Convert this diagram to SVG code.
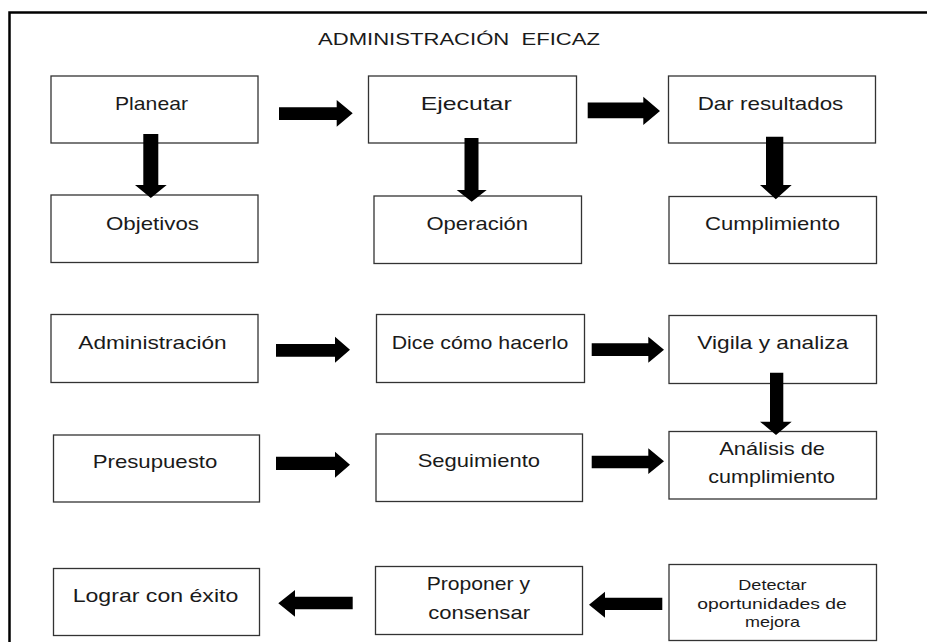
<svg xmlns="http://www.w3.org/2000/svg" width="927" height="642" viewBox="0 0 927 642">
<style>
.box{fill:#fff;stroke:#333;stroke-width:1.3}
.t{font-family:"Liberation Sans",Arial,sans-serif;font-size:19px;fill:#1a1a1a}
.s{font-family:"Liberation Sans",Arial,sans-serif;font-size:15px;fill:#1a1a1a}
.ttl{font-family:"Liberation Sans",Arial,sans-serif;font-size:17px;fill:#1a1a1a;white-space:pre}
.ar{fill:#000}
</style>
<rect x="0" y="0" width="927" height="642" fill="#fff"/>
<path d="M9.5,642 V12.5 H927" fill="none" stroke="#000" stroke-width="2.5"/>
<text class="ttl" x="318" y="44.5" textLength="282" lengthAdjust="spacingAndGlyphs" xml:space="preserve">ADMINISTRACIÓN  EFICAZ</text>

<g id="n-planear"><rect class="box" x="51" y="76" width="207" height="67"/><text class="t" x="115" y="110" textLength="73" lengthAdjust="spacingAndGlyphs">Planear</text></g>
<g id="n-ejecutar"><rect class="box" x="368.5" y="76" width="208" height="67"/><text class="t" x="420.7" y="110" textLength="91" lengthAdjust="spacingAndGlyphs">Ejecutar</text></g>
<g id="n-dar"><rect class="box" x="668.5" y="76" width="207" height="67"/><text class="t" x="697.7" y="109.5" textLength="145.6" lengthAdjust="spacingAndGlyphs">Dar resultados</text></g>
<g id="n-objetivos"><rect class="box" x="51" y="195" width="207" height="67.5"/><text class="t" x="106" y="229.5" textLength="93" lengthAdjust="spacingAndGlyphs">Objetivos</text></g>
<g id="n-operacion"><rect class="box" x="374" y="196" width="207.5" height="67.5"/><text class="t" x="426.5" y="229.5" textLength="101.5" lengthAdjust="spacingAndGlyphs">Operación</text></g>
<g id="n-cumplimiento"><rect class="box" x="669" y="196.5" width="207.5" height="67"/><text class="t" x="705" y="230" textLength="135" lengthAdjust="spacingAndGlyphs">Cumplimiento</text></g>
<g id="n-administracion"><rect class="box" x="51" y="314.5" width="207" height="68"/><text class="t" x="78.3" y="349.3" textLength="148.4" lengthAdjust="spacingAndGlyphs">Administración</text></g>
<g id="n-dice"><rect class="box" x="376.5" y="314.5" width="208" height="68"/><text class="t" x="391.7" y="349.3" textLength="176.6" lengthAdjust="spacingAndGlyphs">Dice cómo hacerlo</text></g>
<g id="n-vigila"><rect class="box" x="669" y="315.5" width="207.5" height="68"/><text class="t" x="697.3" y="349.3" textLength="151" lengthAdjust="spacingAndGlyphs">Vigila y analiza</text></g>
<g id="n-presupuesto"><rect class="box" x="53.5" y="435" width="206" height="67"/><text class="t" x="92.7" y="468.3" textLength="124.6" lengthAdjust="spacingAndGlyphs">Presupuesto</text></g>
<g id="n-seguimiento"><rect class="box" x="376" y="434" width="206.5" height="67.5"/><text class="t" x="417.7" y="467" textLength="122.3" lengthAdjust="spacingAndGlyphs">Seguimiento</text></g>
<g id="n-analisis"><rect class="box" x="669" y="431.5" width="207.5" height="67.5"/><text class="t" x="719.3" y="455" textLength="105.7" lengthAdjust="spacingAndGlyphs">Análisis de</text><text class="t" x="708.3" y="483.3" textLength="126.7" lengthAdjust="spacingAndGlyphs">cumplimiento</text></g>
<g id="n-lograr"><rect class="box" x="53.5" y="568.5" width="206" height="67"/><text class="t" x="72.7" y="601.5" textLength="165.6" lengthAdjust="spacingAndGlyphs">Lograr con éxito</text></g>
<g id="n-proponer"><rect class="box" x="375.5" y="566.5" width="207" height="68"/><text class="t" x="426.7" y="590" textLength="103.3" lengthAdjust="spacingAndGlyphs">Proponer y</text><text class="t" x="428.3" y="618.5" textLength="101.7" lengthAdjust="spacingAndGlyphs">consensar</text></g>
<g id="n-detectar"><rect class="box" x="669" y="564.5" width="207.5" height="76"/><text class="s" x="738.3" y="590" textLength="68.3" lengthAdjust="spacingAndGlyphs">Detectar</text><text class="s" x="697.3" y="609.3" textLength="149.4" lengthAdjust="spacingAndGlyphs">oportunidades de</text><text class="s" x="745" y="626.7" textLength="55" lengthAdjust="spacingAndGlyphs">mejora</text></g>

<g id="connectors">
<polygon class="ar" points="279,107.3 336.7,107.3 336.7,100 352.7,113.3 336.7,126.7 336.7,120 279,120"/>
<polygon class="ar" points="587.7,102.5 643.3,102.5 643.3,96.7 660,111 643.3,125 643.3,118.3 587.7,118.3"/>
<polygon class="ar" points="276,344 335,344 335,336.7 350,349.7 335,362.7 335,356.7 276,356.7"/>
<polygon class="ar" points="591.7,343.3 648.3,343.3 648.3,336.7 664,349.7 648.3,362.7 648.3,356 591.7,356"/>
<polygon class="ar" points="276,456.7 335,456.7 335,451.7 350,464.7 335,477.7 335,470 276,470"/>
<polygon class="ar" points="591.7,455.7 648.3,455.7 648.3,448.3 664,461.2 648.3,474 648.3,468.3 591.7,468.3"/>
<polygon class="ar" points="352.7,596.7 295,596.7 295,590 278.3,603.3 295,616.7 295,609.3 352.7,609.3"/>
<polygon class="ar" points="662.3,597.7 605,597.7 605,591.7 589,604.7 605,617.7 605,610 662.3,610"/>
<polygon class="ar" points="143.3,134 158.3,134 158.3,185 166.7,185 150.8,198 135,185 143.3,185"/>
<polygon class="ar" points="464.5,138 478.5,138 478.5,190 486.7,190 471.7,201.7 456.7,190 464.5,190"/>
<polygon class="ar" points="766,136.7 783.3,136.7 783.3,185 791.7,185 775.8,199.3 760,185 766,185"/>
<polygon class="ar" points="770,372.7 783.3,372.7 783.3,421.7 791.7,421.7 776,435 760,421.7 770,421.7"/>
</g>
</svg>
